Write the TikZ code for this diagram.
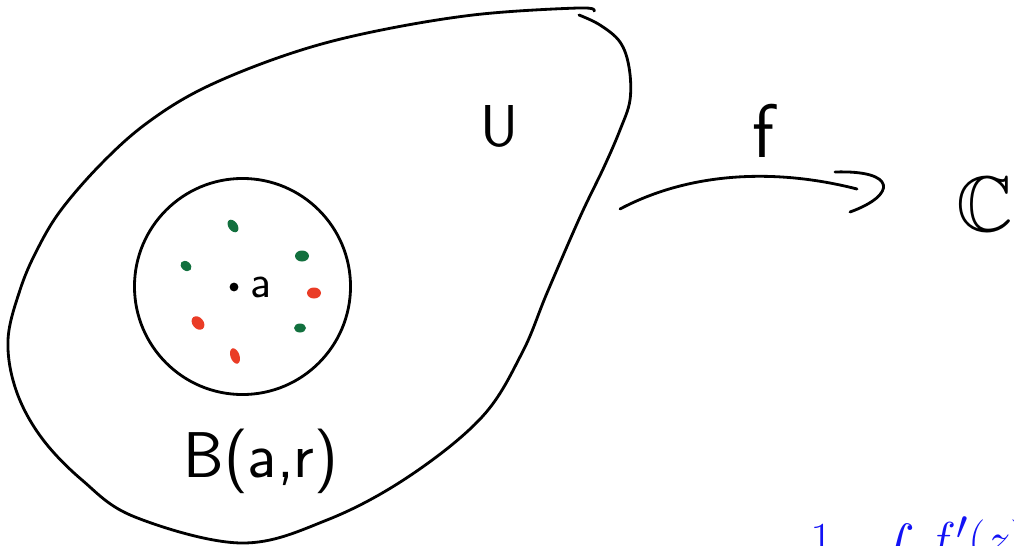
\documentclass[tikz,border=0pt]{standalone}
\usepackage{amsmath,amssymb}
\usepackage{xcolor}
\usepackage{tikz}
\usetikzlibrary{arrows.meta,positioning}
\definecolor{dotgreen}{RGB}{18,112,62}
\definecolor{dotred}{RGB}{234,60,38}
\definecolor{formblue}{RGB}{18,18,245}

\begin{document}
\begin{tikzpicture}[x=0.025cm, y=-0.025cm,
  pen/.style={line width=2pt, line cap=round, line join=round},
  hand/.style={font=\sffamily\fontsize{42}{46}\selectfont, inner sep=0pt}]
\useasboundingbox (0,0) rectangle (1014,546);

% Open set U
\draw [pen] plot [smooth, tension=0.6] coordinates {(579,15) (600,25) (620,42) (629,67) (630,100) (620,130) (604,167) (580,217) (547,293) (522,353) (482,417) (408,477) (327,520) (241,543) (135,517) (82,480) (41,437) (16,390) (8,340) (20,290) (37,250) (61,210) (102,163) (147,123) (204,88) (286,55) (367,33) (473,15) (578,8) (594,11)};
\node (U) at (500,126) [hand] {U};

% Ball around a
\node (ball) at (242.5,286.5) [circle, draw, pen, minimum size=5.4cm, inner sep=0pt] {};
\node (ctr) at (234,287) [circle, fill, inner sep=0pt, minimum size=0.22cm] {};
\node (alabel) [right=5pt of ctr, font=\sffamily\fontsize{33}{35}\selectfont] {a};
\node (B) at (261,461) [hand, font=\sffamily\fontsize{46}{50}\selectfont] {B(a,r)};

% Points near a
\fill [dotgreen, rotate around={-55:(233,226)}] (233,226) ellipse [x radius=7, y radius=4.5];
\fill [dotgreen] (302,256) ellipse [x radius=7, y radius=5.5];
\fill [dotgreen, rotate around={-40:(186,266)}] (186,266) ellipse [x radius=6, y radius=4.5];
\fill [dotgreen] (300,328) ellipse [x radius=6, y radius=4.5];
\fill [dotred] (314,293) ellipse [x radius=7, y radius=5.5];
\fill [dotred, rotate around={-50:(198,323)}] (198,323) ellipse [x radius=7.5, y radius=5.5];
\fill [dotred, rotate around={-70:(235,356)}] (235,356) ellipse [x radius=8, y radius=4.5];

% The map f
\node (cc) at (985,204) [font=\fontsize{56}{60}\selectfont, inner sep=0pt] {$\mathbb{C}$};
\coordinate (fstart) at (620,209);
\coordinate (fend) at (857,189);
\draw [pen] (fstart) .. controls (690,172) and (775,168) .. (fend);
\draw [pen] (835,172) .. controls (897,170) and (897,195) .. (850,212);
\node (f) at (763,131) [hand, font=\sffamily\fontsize{54}{58}\selectfont] {f};

% Formula below
\node (formula) at (785,516) [anchor=north west, inner sep=0pt, text=formblue, font=\Huge, scale=1.4]
  {$\displaystyle\frac{1}{2\pi i}\int_{\gamma}\frac{f'(z)}{f(z)}\,dz$};
\end{tikzpicture}
\end{document}
